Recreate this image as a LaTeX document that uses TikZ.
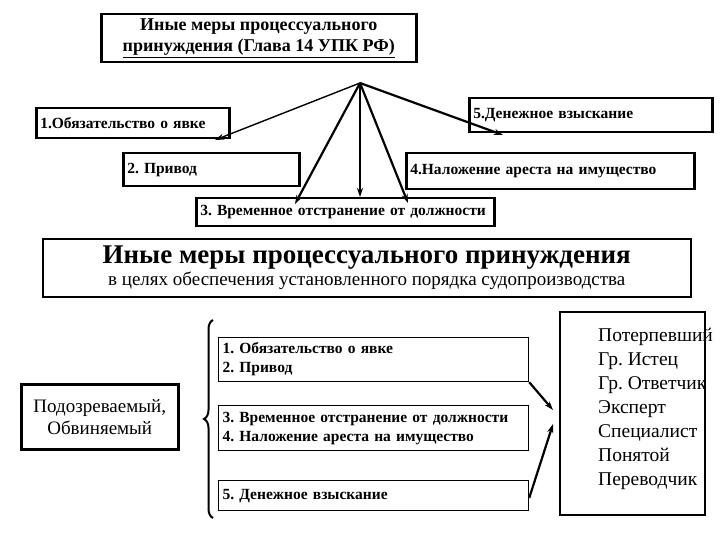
\documentclass[tikz,border=0pt]{standalone}
\usepackage{fontspec}
\setmainfont{Liberation Serif}
\usetikzlibrary{arrows.meta,decorations.pathreplacing}
\frenchspacing
\begin{document}
\begin{tikzpicture}[x=1pt,y=-1pt,
 bx/.style={draw,line width=1.2pt,inner sep=0pt,anchor=north west},
 thk/.style={draw,line width=2.5pt,inner sep=0pt,anchor=north west},
 sm/.style={font=\bfseries\fontsize{15.5}{19}\selectfont},
 arr/.style={-{Stealth[length=9pt,width=6pt]},line width=2.2pt}]
\useasboundingbox (0,0) rectangle (720,540);
\node[thk,minimum width=315,minimum height=48,align=center,font=\bfseries\fontsize{18}{21}\selectfont] (top) at (100,13) {Иные меры процессуального\\\underline{принуждения (Глава 14 УПК РФ)}};
\coordinate (o) at (360,83);
\node[thk,minimum width=193,minimum height=30,sm,text width=185] (b1) at (35,107) {1.Обязательство о явке};
\node[thk,minimum width=243,minimum height=34,sm,text width=235] (b5) at (468,97) {5.Денежное взыскание};
\node[thk,minimum width=176,minimum height=33,sm,text width=168] (b2) at (122,152) {2. Привод};
\node[thk,minimum width=288,minimum height=36,sm,text width=280] (b4) at (405,152) {4.Наложение ареста на имущество};
\node[thk,minimum width=298,minimum height=28,sm,text width=290] (b3) at (195,197) {3. Временное отстранение от должности};
\draw[arr,line width=1.4pt] (o) -- (215,140);
\draw[arr] (o) -- (295,204);
\draw[arr] (o) -- (360,197);
\draw[arr] (o) -- (408,203);
\draw[arr] (o) -- (503,135);
\node[bx,line width=1.5pt,minimum width=648,minimum height=58,align=center] (big) at (42,238) {{\bfseries\fontsize{27}{29}\selectfont Иные меры процессуального принуждения}\\[1pt]{\fontsize{19}{21}\selectfont в целях обеспечения установленного порядка судопроизводства}};
\node[thk,minimum width=157,minimum height=65,align=center,font=\fontsize{19}{22}\selectfont] (l) at (20,383) {Подозреваемый,\\Обвиняемый};
\draw[line width=2pt,decorate,decoration={brace,amplitude=9pt}] (213,518) -- (213,320);
\node[bx,minimum width=310,minimum height=44,align=left,sm,text width=302] (m1) at (218,337) {1. Обязательство о явке\\2. Привод};
\node[bx,minimum width=310,minimum height=45,align=left,sm,text width=302] (m2) at (218,405) {3. Временное отстранение от должности\\4. Наложение ареста на имущество};
\node[bx,minimum width=310,minimum height=30,align=left,sm,text width=302] (m3) at (218,480) {5. Денежное взыскание};
\node[anchor=north west,align=left,font=\fontsize{19.5}{24}\selectfont,inner sep=0pt] (rt) at (598,328) {Потерпевший\\Гр. Истец\\Гр. Ответчик\\Эксперт\\Специалист\\Понятой\\Переводчик};
\draw[line width=2.5pt] (560,312) rectangle (705,515);
\draw[arr] (m1.south east) -- (553,410);
\draw[arr] (m3.north east) ++(0,18) -- (553,424);
\end{tikzpicture}
\end{document}
